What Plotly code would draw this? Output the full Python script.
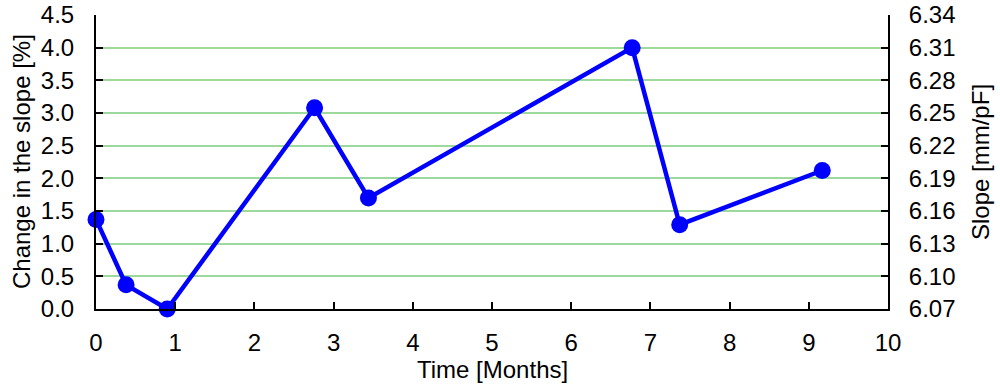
import plotly.graph_objects as go

time_months = [0.0, 0.38, 0.90, 2.76, 3.44, 6.77, 7.37, 9.17]
change_pct = [1.37, 0.37, 0.0, 3.08, 1.70, 4.0, 1.29, 2.12]

x_ticks = list(range(0, 11))
y_ticks = [0.0, 0.5, 1.0, 1.5, 2.0, 2.5, 3.0, 3.5, 4.0, 4.5]
y2_ticks = [6.07, 6.10, 6.13, 6.16, 6.19, 6.22, 6.25, 6.28, 6.31, 6.34]

font_family = "Liberation Sans, Arial, sans-serif"
FS = 24

W, H = 1000, 389
ML, MR, MT, MB = 96, 112, 15, 80

fig = go.Figure()
fig.add_trace(go.Scatter(
    x=time_months, y=change_pct, mode="lines+markers",
    line=dict(color="#0000ff", width=4.5),
    marker=dict(color="#0000ff", size=17),
    cliponaxis=False, showlegend=False,
))
fig.add_trace(go.Scatter(
    x=[None], y=[None], yaxis="y2", showlegend=False, hoverinfo="skip",
))

axis_common = dict(
    showline=True, linecolor="black", linewidth=2,
    ticks="inside", ticklen=7, tickwidth=2, tickcolor="black",
    tickfont=dict(size=FS, color="black", family=font_family),
    zeroline=False, automargin=False, ticklabeloverflow="allow",
)

pw = W - ML - MR
ph = H - MT - MB

fig.update_layout(
    width=W, height=H,
    margin=dict(l=ML, r=MR, t=MT, b=MB),
    paper_bgcolor="white", plot_bgcolor="white",
    font=dict(family=font_family, color="black", size=FS),
    xaxis=dict(
        range=[0, 10], tickvals=x_ticks, showgrid=False,
        ticklabelstandoff=11,
        **axis_common,
    ),
    yaxis=dict(
        range=[0, 4.5], tickvals=y_ticks, tickformat=".1f",
        showgrid=True, gridcolor="#9dd89d", gridwidth=2,
        ticklabelstandoff=15,
        **axis_common,
    ),
    yaxis2=dict(
        range=[6.07, 6.34], tickvals=y2_ticks, tickformat=".2f",
        overlaying="y", side="right", showgrid=False,
        ticklabelstandoff=14,
        **axis_common,
    ),
    annotations=[
        dict(text="Time [Months]", x=0.5, xref="paper",
             y=(389 - MB - 370) / ph, yref="paper",
             showarrow=False, font=dict(size=FS), xanchor="center", yanchor="middle"),
        dict(text="Change in the slope [%]", x=(21 - ML) / pw, xref="paper",
             y=0.5, yref="paper", textangle=-90,
             showarrow=False, font=dict(size=FS), xanchor="center", yanchor="middle"),
        dict(text="Slope [mm/pF]", x=(980 - ML) / pw, xref="paper",
             y=0.5, yref="paper", textangle=-90,
             showarrow=False, font=dict(size=FS), xanchor="center", yanchor="middle"),
    ],
)

fig.write_html("out.html", config={"displayModeBar": False},
               post_script="document.body.style.margin='0';")
